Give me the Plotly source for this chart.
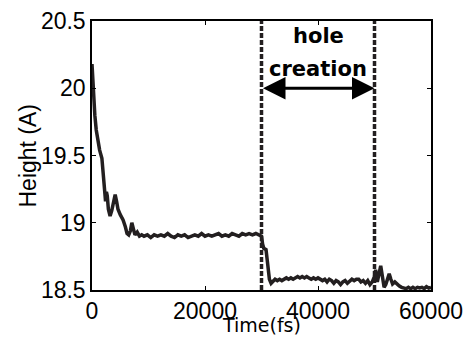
import plotly.graph_objects as go

time_fs = [0, 200, 500, 750, 1000, 1350, 1750, 2000, 2250, 2400, 2550, 2700, 2900, 3200, 3500, 3800,
           4100, 4350, 4600, 5000, 5500, 5900, 6200, 6500, 6800, 7050, 7300, 7600, 8000, 8400, 8800,
           9200, 9800, 10400, 11000, 11600, 12200, 12800, 13400, 14000, 14600, 15200, 15800, 16400,
           17000, 17600, 18200, 18800, 19400, 20000, 20600, 21200, 21800, 22400, 23000, 23600, 24200,
           24800, 25400, 26000, 26600, 27200, 27800, 28400, 29000, 29700,
           30000, 30200, 30400, 30800, 31100, 31400, 31700, 32000, 32400, 32800, 33200, 33600, 34000,
           34400, 34800, 35200, 35600, 36000, 36400, 36800, 37200, 37600, 38000, 38400, 38800, 39200,
           39600, 40000, 40400, 40800, 41200, 41600, 42000, 42400, 42800, 43200, 43600, 44000, 44400,
           44800, 45200, 45600, 46000, 46400, 46800, 47200, 47600, 48000, 48400, 48800, 49200, 49600,
           50000, 50200, 50500, 50800, 51100, 51400, 51700, 52000, 52300, 52600, 52900, 53200, 53600,
           54000, 54400, 54800, 55200, 55600, 56000, 56400, 56800, 57200, 57600, 58000, 58400, 58800,
           59200, 59600, 60000]

height_A = [20.18, 20.00, 19.80, 19.69, 19.62, 19.54, 19.48, 19.38, 19.24, 19.16, 19.23, 19.20, 19.10,
            19.05, 19.09, 19.17, 19.21, 19.16, 19.10, 19.06, 19.02, 18.97, 18.92, 18.91, 18.94, 19.00,
            18.95, 18.91, 18.93, 18.90, 18.91,
            18.90, 18.91, 18.89, 18.91, 18.90, 18.91, 18.90, 18.92, 18.90, 18.89, 18.91, 18.90, 18.91,
            18.89, 18.90, 18.91, 18.90, 18.92, 18.90, 18.91, 18.90, 18.91, 18.92, 18.90, 18.91, 18.90,
            18.92, 18.91, 18.90, 18.92, 18.91, 18.92, 18.91, 18.92, 18.91,
            18.90, 18.84, 18.81, 18.80, 18.70, 18.58, 18.55, 18.56, 18.58, 18.57, 18.58, 18.57, 18.58,
            18.59, 18.58, 18.59, 18.58, 18.59, 18.60, 18.59, 18.60, 18.59, 18.60, 18.59, 18.58, 18.59,
            18.58, 18.59, 18.58, 18.57, 18.58, 18.56, 18.58, 18.57, 18.55, 18.57, 18.56, 18.54, 18.56,
            18.57, 18.55, 18.57, 18.58, 18.57, 18.58, 18.58, 18.56, 18.57, 18.55, 18.57, 18.54, 18.56,
            18.60, 18.65, 18.56, 18.62, 18.68, 18.60, 18.52, 18.54, 18.58, 18.62, 18.58, 18.545, 18.56,
            18.54, 18.53, 18.52, 18.515, 18.51, 18.52, 18.51, 18.52, 18.51, 18.52, 18.515, 18.52, 18.51,
            18.525, 18.515, 18.52]

x_ticks = [0, 20000, 40000, 60000]
x_tick_labels = ["0", "20000", "40000", "60000"]
y_ticks = [18.5, 19, 19.5, 20, 20.5]
y_tick_labels = ["18.5", "19", "19.5", "20", "20.5"]
event_times = [30000, 50000]
arrow_height = 20.0

ink = "#231f20"

fig = go.Figure()
fig.add_trace(go.Scatter(x=time_fs, y=height_A, mode="lines",
                         line=dict(color=ink, width=3.5), showlegend=False))

for t in event_times:
    fig.add_shape(type="line", xref="x", yref="y", x0=t, x1=t, y0=18.5, y1=20.5,
                  line=dict(color=ink, width=3.5, dash="5px,2px"))

fig.add_annotation(x=event_times[1], y=arrow_height, ax=event_times[0], ay=arrow_height,
                   xref="x", yref="y", axref="x", ayref="y", text="", showarrow=True,
                   arrowhead=2, startarrowhead=2, arrowside="end+start", arrowsize=1.5,
                   startarrowsize=1.5, arrowwidth=3, arrowcolor="black")

mid = (event_times[0] + event_times[1]) / 2
fig.add_annotation(x=mid, y=20.39, xref="x", yref="y", text="<b>hole</b>", showarrow=False,
                   font=dict(family="DejaVu Sans", size=21, color="black"))
fig.add_annotation(x=mid, y=20.14, xref="x", yref="y", text="<b>creation</b>", showarrow=False,
                   font=dict(family="DejaVu Sans", size=21, color="black"))

fig.add_annotation(x=0.5, y=0, xref="paper", yref="paper", yshift=-35, text="Time(fs)",
                   showarrow=False, yanchor="middle",
                   font=dict(family="DejaVu Sans", size=19, color="black"))

fig.add_annotation(x=0, y=0.5, xref="paper", yref="paper", xshift=-65, text="Height (A)",
                   showarrow=False, textangle=-90, xanchor="center",
                   font=dict(family="Liberation Sans", size=23, color="black"))

axis_common = dict(showline=True, linecolor="black", linewidth=1.5, mirror="ticks",
                   ticks="inside", ticklen=4, tickcolor="black", tickwidth=1,
                   showgrid=False, zeroline=False, automargin=False,
                   tickfont=dict(family="Liberation Sans", size=23, color="black"))

fig.update_xaxes(range=[0, 60000], tickvals=x_ticks, ticktext=x_tick_labels, **axis_common)
fig.update_yaxes(range=[18.5, 20.5], tickvals=y_ticks, ticktext=y_tick_labels, **axis_common)

fig.update_layout(width=467, height=339, margin=dict(l=92, r=36, t=21, b=49),
                  plot_bgcolor="white", paper_bgcolor="white")

fig.write_html("out.html")
